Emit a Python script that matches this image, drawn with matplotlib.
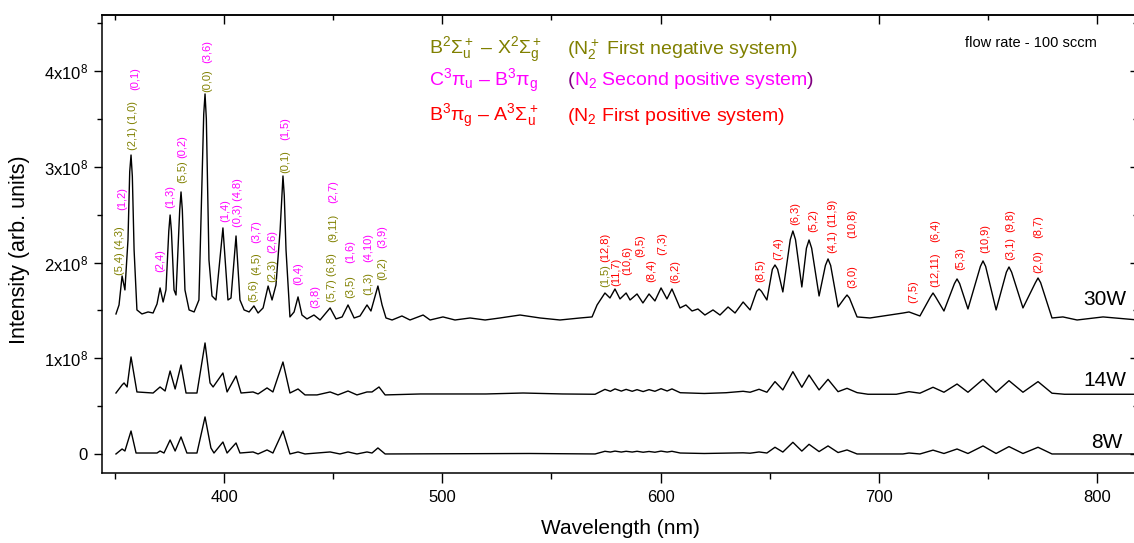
import matplotlib
matplotlib.use("Agg")
import matplotlib.pyplot as plt
from matplotlib.ticker import MultipleLocator, FixedLocator, FixedFormatter
from matplotlib.offsetbox import TextArea, HPacker, AnnotationBbox

plt.rcParams['font.family'] = ['Liberation Sans', 'DejaVu Sans']
plt.rcParams['mathtext.fontset'] = 'custom'
plt.rcParams['mathtext.rm'] = 'Liberation Sans'
plt.rcParams['mathtext.it'] = 'Liberation Sans'
plt.rcParams['mathtext.sf'] = 'Liberation Sans'
plt.rcParams['mathtext.bf'] = 'Liberation Sans:bold'

# ---------------- data (intensity in units of 1e8 arb. units) ----------------
wl_30W = [350.5, 351.9, 353.3, 354.6, 356.0, 356.8, 357.4, 358.0, 358.8, 360.1,
          362.4, 365.2, 367.5, 369.3, 370.7, 372.1, 373.4, 374.7, 375.3, 375.9,
          377.1, 378.0, 379.7, 380.3, 380.9, 382.1, 384.0, 386.3, 388.5, 390.7,
          391.3, 391.9, 393.1, 394.5, 396.3, 399.5, 401.8, 403.2, 405.5, 407.3,
          409.2, 411.5, 413.7, 415.6, 417.9, 420.2, 422.0, 423.8, 425.7, 427.0,
          427.6, 428.4, 430.2, 432.1, 433.9, 435.7, 438.0, 441.2, 444.0, 448.6,
          451.3, 454.1, 456.8, 459.6, 462.3, 465.5, 467.3, 470.5, 472.4, 474.2,
          477.0, 479.3, 481.5, 485.2, 491.2, 494.4, 500.3, 505.8, 512.7, 519.6,
          526.4, 535.6, 544.8, 553.9, 563.1, 568.6, 570.9, 574.5, 576.8, 579.1,
          581.4, 584.2, 586.0, 589.2, 591.9, 594.7, 597.4, 600.2, 602.9, 605.2,
          608.9, 611.6, 614.4, 617.1, 620.3, 624.0, 627.2, 630.9, 634.1, 637.8,
          641.0, 644.0, 645.1, 646.2, 648.7, 651.2, 652.4, 653.6, 656.0, 659.4,
          660.6, 661.8, 664.7, 666.8, 668.0, 669.2, 672.6, 675.5, 676.7, 677.9,
          681.3, 684.3, 685.4, 686.5, 690.0, 695.9, 711.1, 713.8, 718.8, 723.6,
          724.8, 726.0, 729.8, 734.6, 735.8, 737.0, 740.8, 746.5, 747.7, 748.9,
          753.7, 758.4, 759.6, 760.8, 766.0, 771.7, 772.9, 774.1, 779.3, 784.3,
          790.8, 802.7, 818.7]
int_30W = [1.463, 1.557, 1.860, 1.714, 2.236, 2.950, 3.124, 2.900, 2.132, 1.505,
           1.463, 1.484, 1.473, 1.567, 1.735, 1.588, 1.714, 2.330, 2.497, 2.330,
           1.714, 1.661, 2.550, 2.738, 2.550, 1.714, 1.505, 1.484, 1.609, 3.550,
           3.762, 3.500, 2.027, 1.651, 1.609, 2.362, 1.609, 1.630, 2.278, 1.609,
           1.505, 1.484, 1.547, 1.473, 1.526, 1.755, 1.609, 1.766, 2.341, 2.905,
           2.700, 2.132, 1.432, 1.484, 1.641, 1.452, 1.411, 1.452, 1.400, 1.526,
           1.411, 1.432, 1.557, 1.421, 1.442, 1.557, 1.494, 1.755, 1.557, 1.421,
           1.400, 1.421, 1.442, 1.400, 1.452, 1.400, 1.432, 1.400, 1.421, 1.400,
           1.421, 1.452, 1.421, 1.400, 1.421, 1.432, 1.557, 1.682, 1.630, 1.724,
           1.620, 1.682, 1.609, 1.672, 1.578, 1.672, 1.599, 1.735, 1.620, 1.724,
           1.526, 1.557, 1.494, 1.515, 1.452, 1.505, 1.452, 1.536, 1.473, 1.588,
           1.505, 1.700, 1.724, 1.700, 1.609, 1.930, 1.975, 1.930, 1.693, 2.240,
           2.330, 2.240, 1.745, 2.150, 2.236, 2.150, 1.651, 1.970, 2.038, 1.970,
           1.536, 1.630, 1.661, 1.630, 1.432, 1.421, 1.473, 1.484, 1.442, 1.640,
           1.682, 1.640, 1.494, 1.780, 1.829, 1.780, 1.515, 1.960, 2.017, 1.960,
           1.505, 1.900, 1.954, 1.900, 1.526, 1.790, 1.839, 1.790, 1.421, 1.432,
           1.400, 1.432, 1.400]

wl_14W = [350.5, 353.3, 354.2, 355.6, 357.4, 360.1, 367.5, 370.7, 373.0, 375.3,
          377.6, 380.3, 382.6, 387.6, 391.3, 393.6, 395.0, 399.5, 401.4, 405.5,
          407.8, 413.3, 415.6, 419.7, 422.4, 427.0, 430.2, 433.9, 437.1, 442.6,
          448.6, 452.2, 456.8, 460.9, 465.5, 467.8, 471.0, 473.8, 490.0, 520.0,
          537.0, 555.0, 570.0, 574.5, 577.0, 579.1, 582.0, 584.2, 587.0, 589.2,
          592.0, 594.7, 597.4, 600.2, 603.0, 605.2, 609.0, 620.0, 630.0, 637.8,
          641.0, 645.1, 648.7, 652.4, 656.0, 660.6, 664.7, 668.0, 672.6, 676.7,
          681.3, 685.4, 690.0, 695.0, 708.0, 713.8, 718.8, 724.8, 729.8, 735.8,
          740.8, 747.7, 753.7, 759.6, 766.0, 772.9, 779.3, 785.0, 818.7]
int_14W = [0.637, 0.721, 0.742, 0.700, 1.014, 0.648, 0.637, 0.700, 0.658, 0.867,
           0.679, 0.930, 0.637, 0.637, 1.160, 0.742, 0.700, 0.846, 0.648, 0.815,
           0.637, 0.648, 0.627, 0.690, 0.648, 0.961, 0.637, 0.679, 0.617, 0.617,
           0.648, 0.617, 0.658, 0.617, 0.648, 0.648, 0.700, 0.617, 0.627, 0.627,
           0.637, 0.627, 0.624, 0.675, 0.655, 0.680, 0.657, 0.675, 0.655, 0.672,
           0.652, 0.672, 0.655, 0.682, 0.658, 0.680, 0.640, 0.632, 0.640, 0.655,
           0.645, 0.676, 0.645, 0.756, 0.669, 0.860, 0.697, 0.825, 0.669, 0.780,
           0.651, 0.686, 0.641, 0.624, 0.624, 0.651, 0.635, 0.697, 0.645, 0.731,
           0.645, 0.780, 0.645, 0.766, 0.645, 0.756, 0.635, 0.624, 0.624]

wl_8W = [350.5, 353.3, 354.6, 357.4, 359.7, 369.3, 370.7, 372.5, 375.3, 377.6,
         380.3, 383.0, 387.6, 391.3, 394.0, 395.4, 399.5, 401.4, 405.5, 407.3,
         413.3, 415.6, 419.7, 422.4, 427.0, 430.2, 433.9, 437.1, 448.6, 453.1,
         456.8, 460.9, 465.5, 467.8, 470.5, 473.8, 540.0, 570.0, 574.5, 577.0,
         579.1, 582.0, 584.2, 587.0, 589.2, 592.0, 594.7, 597.4, 600.2, 603.0,
         605.2, 609.0, 620.0, 637.8, 641.0, 645.1, 648.7, 652.4, 656.0, 660.6,
         664.7, 668.0, 672.6, 676.7, 681.3, 685.4, 690.0, 711.0, 713.8, 718.8,
         724.8, 729.8, 735.8, 740.8, 747.7, 753.7, 759.6, 766.0, 772.9, 779.3,
         818.7]
int_8W = [0.000, 0.052, 0.031, 0.240, 0.010, 0.010, 0.031, 0.010, 0.146, 0.031,
          0.178, 0.010, 0.010, 0.387, 0.063, 0.010, 0.125, 0.010, 0.115, 0.010,
          0.021, 0.000, 0.042, 0.010, 0.240, 0.000, 0.021, 0.000, 0.021, 0.000,
          0.021, 0.000, 0.021, 0.010, 0.063, 0.000, 0.005, 0.000, 0.028, 0.020,
          0.030, 0.020, 0.028, 0.020, 0.028, 0.018, 0.026, 0.018, 0.030, 0.020,
          0.028, 0.010, 0.005, 0.012, 0.008, 0.021, 0.010, 0.070, 0.020, 0.122,
          0.030, 0.101, 0.025, 0.084, 0.015, 0.042, 0.000, 0.000, 0.010, 0.000,
          0.040, 0.005, 0.052, 0.005, 0.084, 0.005, 0.077, 0.005, 0.070, 0.000,
          0.000]

power_labels = ["30W", "14W", "8W"]

y_tick_values = [0, 1, 2, 3, 4]
y_tick_labels = ["0", "1x10$^8$", "2x10$^8$", "3x10$^8$", "4x10$^8$"]
x_tick_values = [400, 500, 600, 700, 800]

# band assignments: (text, wavelength, label-bottom intensity, system)
band_text = ["(5,4) (4,3)", "(1,2)", "(2,1) (1,0)", "(0,1)", "(2,4)", "(1,3)",
             "(5,5)", "(0,2)", "(0,0)", "(3,6)", "(1,4)", "(0,3) (4,8)",
             "(5,6)", "(4,5)", "(3,7)", "(2,3)", "(2,6)", "(0,1)", "(1,5)",
             "(0,4)", "(3,8)", "(5,7) (6,8)", "(9,11)", "(2,7)", "(3,5)", "(1,6)",
             "(1,3)", "(4,10)", "(0,2)", "(3,9)",
             "(1,5)", "(12,8)", "(11,7)", "(10,6)", "(9,5)", "(8,4)", "(7,3)",
             "(6,2)", "(8,5)", "(7,4)", "(6,3)", "(5,2)", "(4,1)", "(11,9)",
             "(3,0)", "(10,8)", "(7,5)", "(12,11)", "(6,4)", "(5,3)", "(10,9)",
             "(3,1)", "(9,8)", "(2,0)", "(8,7)"]
band_wl = [352.4, 353.3, 358.3, 359.2, 370.7, 375.3, 380.8, 380.8, 392.2, 392.2,
           400.5, 406.4, 413.3, 414.7, 414.7, 422.0, 422.0, 427.9, 427.9, 433.9,
           441.7, 449.5, 449.9, 449.9, 457.7, 457.7, 466.0, 466.0, 472.4, 472.4,
           574.5, 574.5, 579.6, 584.6, 590.6, 595.6, 600.6, 606.6, 645.5, 653.8,
           661.6, 669.8, 678.5, 678.5, 687.7, 687.7, 715.6, 725.7, 725.7, 737.2,
           748.6, 760.1, 760.1, 772.9, 772.9]
band_y = [1.870, 2.550, 3.177, 3.804, 1.902, 2.571, 2.832, 3.093, 3.783, 4.086,
          2.424, 2.372, 1.588, 1.870, 2.205, 1.797, 2.100, 2.936, 3.281, 1.766,
          1.526, 1.588, 2.215, 2.623, 1.630, 1.996, 1.661, 2.006, 1.818, 2.153,
          1.745, 2.006, 1.755, 1.870, 2.059, 1.797, 2.079, 1.787, 1.797, 2.027,
          2.393, 2.320, 2.100, 2.372, 1.735, 2.257, 1.578, 1.745, 2.215, 1.923,
          2.100, 2.027, 2.320, 1.891, 2.257]
band_sys = ["neg", "pos2", "neg", "pos2", "pos2", "pos2", "neg", "pos2", "neg", "pos2",
            "pos2", "pos2", "neg", "neg", "pos2", "neg", "pos2", "neg", "pos2", "pos2",
            "pos2", "neg", "neg", "pos2", "neg", "pos2", "neg", "pos2", "neg", "pos2",
            "neg"] + ["pos1"] * 24

sys_color = {"neg": "#808000", "pos2": "#FF00FF", "pos1": "#FF0000"}
paren_color = "#800080"

# ---------------- figure ----------------
fig = plt.figure(figsize=(11.34, 5.43), dpi=100)
W, H = 1134.0, 543.0
ax = fig.add_axes([102 / W, 1 - 473.3 / H, (1138 - 102) / W, (473.3 - 15) / H])

for wl, it in ((wl_30W, int_30W), (wl_14W, int_14W), (wl_8W, int_8W)):
    ax.plot(wl, it, color="black", lw=1.0, solid_joinstyle="round")

ax.set_xlim(344.1, 818.7)
ax.set_ylim(-0.202, 4.587)

for s in ax.spines.values():
    s.set_linewidth(1.1)

ax.xaxis.set_major_locator(FixedLocator(x_tick_values))
ax.xaxis.set_minor_locator(MultipleLocator(50))
ax.yaxis.set_major_locator(FixedLocator(y_tick_values))
ax.yaxis.set_major_formatter(FixedFormatter(y_tick_labels))
ax.yaxis.set_minor_locator(MultipleLocator(0.5))
ax.tick_params(axis="x", which="major", direction="out", length=7, width=1.0,
               labelsize=12, pad=5, top=False)
ax.tick_params(axis="x", which="minor", direction="out", length=4.3, width=1.0, top=False)
ax.tick_params(axis="y", which="major", direction="out", length=6, width=1.0,
               labelsize=12, pad=4, right=False)
ax.tick_params(axis="y", which="minor", direction="out", length=3.5, width=1.0, right=False)

secx = ax.secondary_xaxis("top")
secx.xaxis.set_major_locator(FixedLocator(x_tick_values))
secx.xaxis.set_minor_locator(MultipleLocator(50))
secx.tick_params(which="major", direction="in", length=6.5, width=1.0, labeltop=False)
secx.tick_params(which="minor", direction="in", length=3.6, width=1.0)
secx.spines["top"].set_linewidth(1.1)

secy = ax.secondary_yaxis("right")
secy.yaxis.set_major_locator(FixedLocator(y_tick_values))
secy.yaxis.set_minor_locator(MultipleLocator(0.5))
secy.tick_params(which="major", direction="in", length=6, width=1.0, labelright=False)
secy.tick_params(which="minor", direction="in", length=3.5, width=1.0)

fig.text(620 / W, 1 - 528 / H, "Wavelength (nm)", ha="center", va="center", fontsize=15)
fig.text(20 / W, 1 - 250 / H, "Intensity (arb. units)", ha="center", va="center",
         rotation=90, fontsize=15.5)

# band labels
for t, x, y, s in zip(band_text, band_wl, band_y, band_sys):
    ax.text(x, y, t, rotation=90, ha="center", va="bottom", fontsize=8,
            color=sys_color[s])

# power labels
ax.text(803.6, 1.609, power_labels[0], ha="center", va="center", fontsize=15)
ax.text(803.6, 0.763, power_labels[1], ha="center", va="center", fontsize=15)
ax.text(804.5, 0.125, power_labels[2], ha="center", va="center", fontsize=15)

ax.text(769.7, 4.295, "flow rate - 100 sccm", ha="center", va="center", fontsize=10.5)

# legend of band systems
lx1, lx2 = 493.9, 557.3
ax.text(lx1, 4.22, r"B$^2\Sigma^+_\mathrm{u}$ – X$^2\Sigma^+_\mathrm{g}$",
        ha="left", va="center", fontsize=14, color=sys_color["neg"])
ax.text(lx2, 4.22, r"(N$_2^+$ First negative system)",
        ha="left", va="center", fontsize=14, color=sys_color["neg"])
ax.text(lx1, 3.90, r"C$^3\pi_\mathrm{u}$ – B$^3\pi_\mathrm{g}$",
        ha="left", va="center", fontsize=14, color=sys_color["pos2"])
parts = [TextArea("(", textprops=dict(color=paren_color, fontsize=14)),
         TextArea(r"N$_2$ Second positive system",
                  textprops=dict(color=sys_color["pos2"], fontsize=14)),
         TextArea(")", textprops=dict(color=paren_color, fontsize=14))]
box = HPacker(children=parts, align="baseline", pad=0, sep=0)
ab = AnnotationBbox(box, (lx2, 3.90), xycoords="data", box_alignment=(0, 0.5),
                    frameon=False, pad=0)
ax.add_artist(ab)
ax.text(lx1, 3.53, r"B$^3\pi_\mathrm{g}$ – A$^3\Sigma^+_\mathrm{u}$",
        ha="left", va="center", fontsize=14, color=sys_color["pos1"])
ax.text(lx2, 3.53, r"(N$_2$ First positive system)",
        ha="left", va="center", fontsize=14, color=sys_color["pos1"])

fig.savefig("out.png", dpi=100)
